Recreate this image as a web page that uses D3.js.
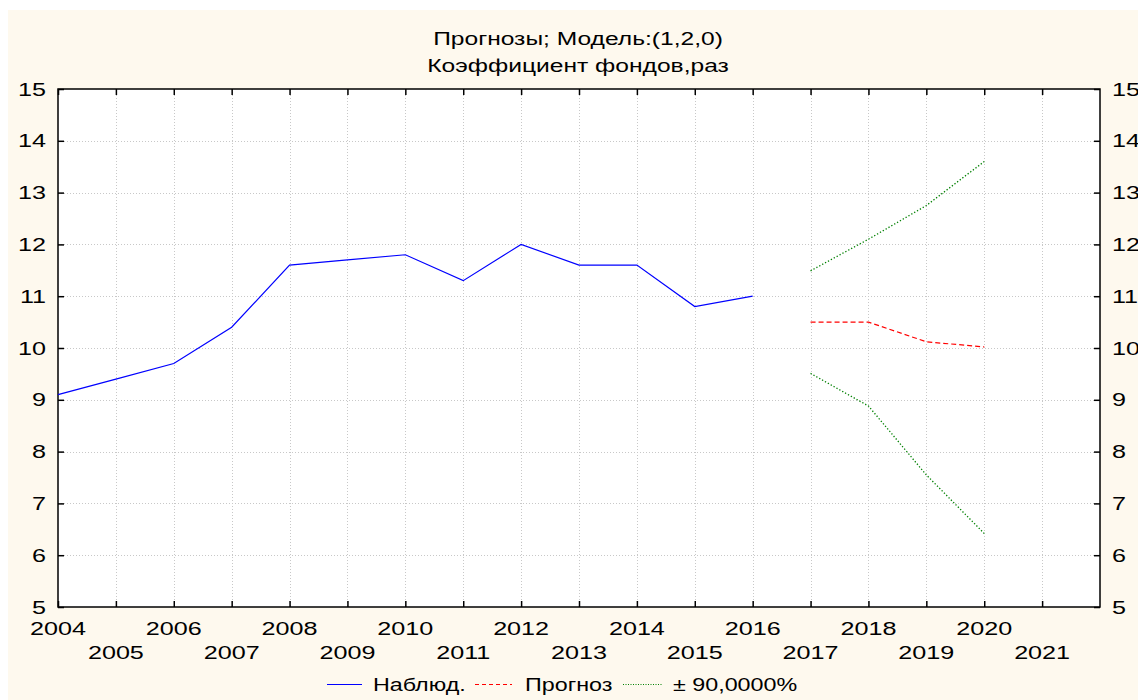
<!DOCTYPE html>
<html>
<head>
<meta charset="utf-8">
<script src="https://cdn.jsdelivr.net/npm/d3@7"></script>
<style>
  html, body { margin: 0; padding: 0; background: #fff; }
  svg { display: block; font-family: "Liberation Sans", Arial, sans-serif; }
</style>
</head>
<body>
<svg id="chart" width="1138" height="700"></svg>
<script>
// observed series
var obsYears = [2004, 2005, 2006, 2007, 2008, 2009, 2010, 2011, 2012, 2013, 2014, 2015, 2016];
var obsValues = [9.1, 9.4, 9.7, 10.4, 11.6, 11.7, 11.8, 11.3, 12.0, 11.6, 11.6, 10.8, 11.0];

// forecast and 90% bounds
var fcYears = [2017, 2018, 2019, 2020];
var fcValues = [10.5, 10.5, 10.12, 10.02];
var upperValues = [11.49, 12.1, 12.75, 13.6];
var lowerValues = [9.51, 8.88, 7.55, 6.42];

var xTicks = d3.range(2004, 2022);
var yTicks = [5, 6, 7, 8, 9, 10, 11, 12, 13, 14, 15];

var titleLines = ["Прогнозы; Модель:(1,2,0)", "Коэффициент фондов,раз"];
var legendItems = [
  {label: "Наблюд.", color: "#0000ff", dash: null},
  {label: "Прогноз", color: "#ff0000", dash: "4,3"},
  {label: "± 90,0000%", color: "#008000", dash: "1,1.5"}
];

var svg = d3.select("#chart");
var pLeft = 58, pRight = 1100, pTop = 89, pBottom = 607;
var fs = 18.5;      // text height
var numSx = 1.36;   // reference glyphs are drawn wide
var titleSx = 1.33;
var legSx = 1.26;

var x = d3.scaleLinear().domain([2004, 2022]).range([pLeft, pRight]);
var y = d3.scaleLinear().domain([5, 15]).range([pBottom, pTop]);

function place(px, py, sx) {
  return "translate(" + px + "," + py + ") scale(" + sx + ",1)";
}

// cream background
svg.append("rect")
  .attr("x", 8).attr("y", 10)
  .attr("width", 1130).attr("height", 690)
  .attr("fill", "#fef9ee");

// plot area
svg.append("rect")
  .attr("x", pLeft).attr("y", pTop)
  .attr("width", pRight - pLeft).attr("height", pBottom - pTop)
  .attr("fill", "#fff");

// grid
var grid = svg.append("g")
  .attr("stroke", "#c8c8c8")
  .attr("stroke-dasharray", "1,2")
  .attr("stroke-width", 1);

grid.selectAll(".vx").data(xTicks.slice(1)).enter().append("line")
  .attr("x1", function (d) { return Math.round(x(d)) + 0.5; })
  .attr("x2", function (d) { return Math.round(x(d)) + 0.5; })
  .attr("y1", pTop).attr("y2", pBottom);

grid.selectAll(".hy").data(yTicks.slice(1, -1)).enter().append("line")
  .attr("y1", function (d) { return Math.round(y(d)) + 0.5; })
  .attr("y2", function (d) { return Math.round(y(d)) + 0.5; })
  .attr("x1", pLeft).attr("x2", pRight);

// axes with inward ticks
var tick = 6;
function noDomain(g) { g.select(".domain").remove(); }
svg.append("g")
  .attr("transform", "translate(0," + pBottom + ")")
  .call(d3.axisBottom(x).tickValues(xTicks).tickSize(-tick).tickFormat(""))
  .call(noDomain);
svg.append("g")
  .attr("transform", "translate(0," + pTop + ")")
  .call(d3.axisTop(x).tickValues(xTicks).tickSize(-tick).tickFormat(""))
  .call(noDomain);
svg.append("g")
  .attr("transform", "translate(" + pLeft + ",0)")
  .call(d3.axisLeft(y).tickValues(yTicks).tickSize(-tick).tickFormat(""))
  .call(noDomain);
svg.append("g")
  .attr("transform", "translate(" + pRight + ",0)")
  .call(d3.axisRight(y).tickValues(yTicks).tickSize(-tick).tickFormat(""))
  .call(noDomain);

svg.selectAll(".tick line").attr("stroke", "#000").attr("stroke-width", 1.5);

// frame
svg.append("rect")
  .attr("x", pLeft).attr("y", pTop)
  .attr("width", pRight - pLeft).attr("height", pBottom - pTop)
  .attr("fill", "none")
  .attr("stroke", "#000")
  .attr("stroke-width", 1.5);

// tick labels
svg.append("g").selectAll("text").data(yTicks).enter().append("text")
  .attr("transform", function (d) { return place(46, y(d), numSx); })
  .attr("dy", "0.36em")
  .attr("text-anchor", "end")
  .attr("font-size", fs)
  .text(function (d) { return d; });

// right labels run to the page edge, as in the reference
svg.append("g").selectAll("text").data(yTicks).enter().append("text")
  .attr("transform", function (d) { return place(1112, y(d), numSx); })
  .attr("dy", "0.36em")
  .attr("font-size", fs)
  .text(function (d) { return d; });

svg.append("g").selectAll("text").data(xTicks).enter().append("text")
  .attr("transform", function (d) { return place(x(d), d % 2 === 0 ? 635 : 659, numSx); })
  .attr("text-anchor", "middle")
  .attr("font-size", fs)
  .text(function (d) { return d; });

// title
svg.append("g").selectAll("text").data(titleLines).enter().append("text")
  .attr("transform", function (d, i) { return place(578, 45 + i * 27, titleSx); })
  .attr("text-anchor", "middle")
  .attr("font-size", fs)
  .text(function (d) { return d; });

// series
var line = d3.line()
  .x(function (d) { return x(d[0]); })
  .y(function (d) { return y(d[1]); });

svg.append("path")
  .datum(d3.zip(obsYears, obsValues))
  .attr("d", line)
  .attr("fill", "none")
  .attr("stroke", "#0000ff")
  .attr("stroke-width", 1.2);

svg.append("path")
  .datum(d3.zip(fcYears, fcValues))
  .attr("d", line)
  .attr("fill", "none")
  .attr("stroke", "#ff0000")
  .attr("stroke-width", 1.2)
  .attr("stroke-dasharray", "5,3");

[upperValues, lowerValues].forEach(function (vals) {
  svg.append("path")
    .datum(d3.zip(fcYears, vals))
    .attr("d", line)
    .attr("fill", "none")
    .attr("stroke", "#008000")
    .attr("stroke-width", 1.3)
    .attr("stroke-dasharray", "1.3,2");
});

// legend
var legendX = [327, 475, 623];
var legendW = [35, 37, 40];
var legendGap = [11, 13, 10];
var leg = svg.append("g").selectAll("g").data(legendItems).enter().append("g")
  .attr("transform", function (d, i) { return "translate(" + legendX[i] + ",684)"; });

leg.append("line")
  .attr("x1", 0).attr("x2", function (d, i) { return legendW[i]; })
  .attr("y1", 0.5).attr("y2", 0.5)
  .attr("stroke", function (d) { return d.color; })
  .attr("stroke-width", 1)
  .attr("stroke-dasharray", function (d) { return d.dash; });

leg.append("text")
  .attr("transform", function (d, i) { return place(legendW[i] + legendGap[i], 6.5, legSx); })
  .attr("font-size", fs)
  .text(function (d) { return d.label; });
</script>
</body>
</html>
